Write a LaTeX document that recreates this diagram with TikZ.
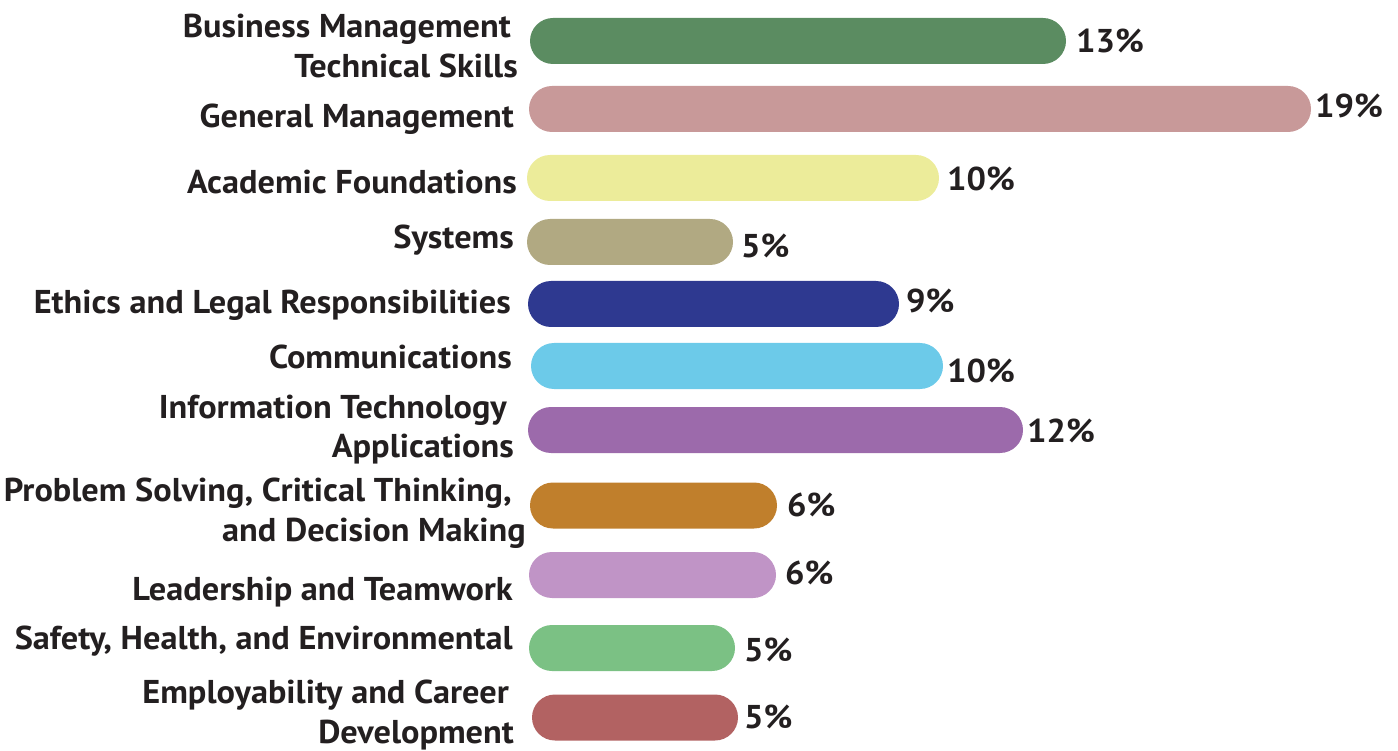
\documentclass[tikz,border=0pt]{standalone}
\usepackage{fontspec}
\setmainfont{PT Sans}[FakeStretch=1.04]
\usetikzlibrary{shapes.misc}
\definecolor{txt}{HTML}{231F20}
\definecolor{cA}{HTML}{5B8C61}
\definecolor{cB}{HTML}{C89999}
\definecolor{cC}{HTML}{ECEC9A}
\definecolor{cD}{HTML}{B1A982}
\definecolor{cE}{HTML}{2E3990}
\definecolor{cF}{HTML}{6CCAE9}
\definecolor{cG}{HTML}{9C6AAB}
\definecolor{cH}{HTML}{C07F2C}
\definecolor{cI}{HTML}{C094C6}
\definecolor{cJ}{HTML}{7BC184}
\definecolor{cK}{HTML}{B26262}
\tikzset{
  bar/.style={rounded rectangle, draw=none, inner sep=0pt, minimum height=46pt},
  lab/.style={anchor=base east, inner sep=0pt, text=txt, font=\fontsize{33}{38}\selectfont\bfseries},
  pct/.style={anchor=base west, inner sep=0pt, text=txt, font=\fontsize{33}{38}\selectfont\bfseries},
}
\begin{document}
\begin{tikzpicture}[x=1pt,y=-1pt]
\useasboundingbox (0,0) rectangle (1398,751);
% bars
\node[bar, fill=cA, minimum width=536pt] (b1) at (798,41) {};
\node[bar, fill=cB, minimum width=782pt] (b2) at (920,109) {};
\node[bar, fill=cC, minimum width=412pt] (b3) at (733,178) {};
\node[bar, fill=cD, minimum width=206pt] (b4) at (630,242) {};
\node[bar, fill=cE, minimum width=371pt] (b5) at (713.5,304) {};
\node[bar, fill=cF, minimum width=412pt] (b6) at (737,366) {};
\node[bar, fill=cG, minimum width=495pt] (b7) at (775.5,430) {};
\node[bar, fill=cH, minimum width=247pt] (b8) at (653.5,505.5) {};
\node[bar, fill=cI, minimum width=247pt] (b9) at (652.5,575) {};
\node[bar, fill=cJ, minimum width=206pt] (b10) at (632,648) {};
\node[bar, fill=cK, minimum width=206pt] (b11) at (635,717.5) {};
% percentages
\node[pct] (p1) at (1076,53) {13\%};
\node[pct] (p2) at (1315,118) {19\%};
\node[pct] (p3) at (947,191) {10\%};
\node[pct] (p4) at (741,258) {5\%};
\node[pct] (p5) at (906,313) {9\%};
\node[pct] (p6) at (947,382) {10\%};
\node[pct] (p7) at (1027,442) {12\%};
\node[pct] (p8) at (787,516) {6\%};
\node[pct] (p9) at (785,584) {6\%};
\node[pct] (p10) at (744,661) {5\%};
\node[pct] (p11) at (744,728) {5\%};
% labels
\node[lab] (l1a) at (511,38) {Business Management};
\node[lab] (l1b) at (518,78) {Technical Skills};
\node[lab] (l2) at (514,128) {General Management};
\node[lab] (l3) at (517,194) {Academic Foundations};
\node[lab] (l4) at (514,249) {Systems};
\node[lab] (l5) at (511,314) {Ethics and Legal Responsibilities};
\node[lab] (l6) at (512,368) {Communications};
\node[lab] (l7a) at (507,418) {Information Technology};
\node[lab] (l7b) at (514,457) {Applications};
\node[lab] (l8a) at (512,501) {Problem Solving, Critical Thinking,};
\node[lab] (l8b) at (526,541) {and Decision Making};
\node[lab] (l9) at (513,600) {Leadership and Teamwork};
\node[lab] (l10) at (513,649) {Safety, Health, and Environmental};
\node[lab] (l11a) at (509,703) {Employability and Career};
\node[lab] (l11b) at (514,743) {Development};
\end{tikzpicture}
\end{document}
